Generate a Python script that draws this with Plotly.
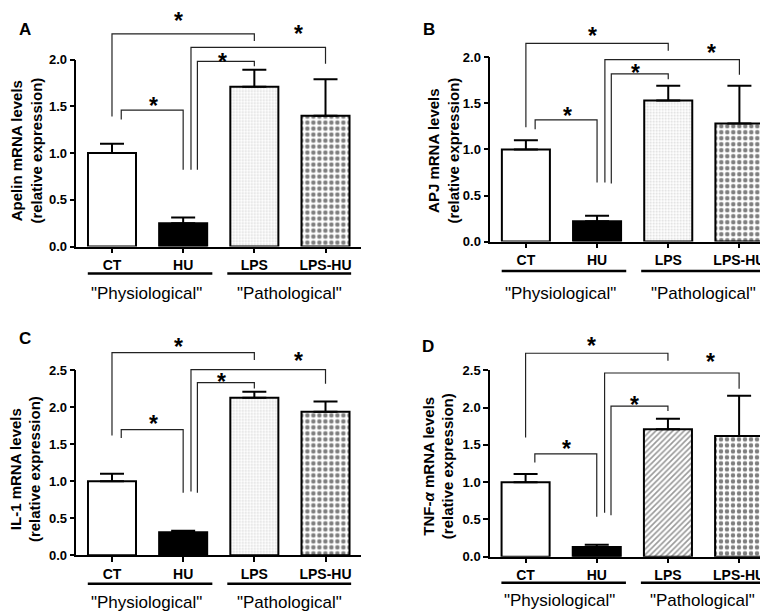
import plotly.graph_objects as go

W, H = 768, 614
FONT = "Liberation Sans, Arial, sans-serif"

categories = ["CT", "HU", "LPS", "LPS-HU"]
groups = ['"Physiological"', '"Pathological"']

# mean and SEM (relative expression)
apelin_mean = [1.00, 0.25, 1.71, 1.40]
apelin_sem = [0.10, 0.06, 0.18, 0.39]
apj_mean = [1.00, 0.22, 1.53, 1.28]
apj_sem = [0.10, 0.06, 0.16, 0.41]
il1_mean = [1.00, 0.31, 2.13, 1.94]
il1_sem = [0.10, 0.02, 0.08, 0.14]
tnf_mean = [1.00, 0.13, 1.71, 1.62]
tnf_sem = [0.11, 0.03, 0.14, 0.54]

# significance brackets: left x, right x, left foot, top, right foot, star x, star y
apelin_sig = [(0.13, 1.0, 1.36, 1.46, 0.82, 0.58, 1.555),
              (0.0, 2.0, 1.39, 2.275, 2.20, 0.94, 2.47),
              (1.2, 2.0, 0.82, 1.98, 1.93, 1.55, 2.03),
              (1.11, 3.0, 0.82, 2.13, 1.955, 2.62, 2.33)]
apj_sig = [(0.13, 1.0, 1.22, 1.32, 0.64, 0.59, 1.42),
           (0.0, 2.0, 1.24, 2.15, 2.07, 0.93, 2.29),
           (1.2, 2.0, 0.63, 1.82, 1.76, 1.54, 1.88),
           (1.11, 3.0, 0.64, 1.975, 1.81, 2.61, 2.10)]
il1_sig = [(0.13, 1.0, 1.585, 1.70, 0.845, 0.58, 1.84),
           (0.0, 2.0, 1.62, 2.74, 2.64, 0.94, 2.885),
           (1.2, 2.0, 0.845, 2.335, 2.255, 1.54, 2.41),
           (1.11, 3.0, 0.86, 2.51, 2.32, 2.62, 2.695)]
tnf_sig = [(0.13, 1.0, 1.265, 1.38, 0.535, 0.57, 1.51),
           (0.0, 2.0, 1.60, 2.73, 2.63, 0.92, 2.89),
           (1.2, 2.0, 0.555, 2.02, 1.955, 1.53, 2.10),
           (1.11, 3.0, 0.59, 2.465, 2.255, 2.60, 2.68)]

# bar fills: (fill colour, pattern shape, pattern colour, pattern size, solidity)
dots_light = ("white", ".", "#b0b0b0", 3, 0.3)
hatch = ("white", "/", "#333333", 4, 0.4)
checker = ("white", ".", "black", 6, 0.45)
plain_white = ("white", "", "black", 6, 0.3)
plain_black = ("black", "", "black", 6, 0.3)

panels = [
    dict(letter="A", title="Apelin mRNA levels", mean=apelin_mean, sem=apelin_sem, sig=apelin_sig,
         ymax=2.0, x0=68.4, x1=353.1, y0=237.3, y1=45.7, top=0, line_px=265, lab_px=285,
         letter_xy=(17, 15), title_xy=(19, 139),
         fills=[plain_white, plain_black, dots_light, checker]),
    dict(letter="B", title="APJ mRNA levels", mean=apj_mean, sem=apj_sem, sig=apj_sig,
         ymax=2.0, x0=482.3, x1=767.0, y0=232.3, y1=43.3, top=0, line_px=262.5, lab_px=285,
         letter_xy=(421, 15), title_xy=(436, 139),
         fills=[plain_white, plain_black, dots_light, checker]),
    dict(letter="C", title="IL-1 mRNA levels", mean=il1_mean, sem=il1_sem, sig=il1_sig,
         ymax=2.5, x0=68.4, x1=353.1, y0=553.7, y1=364.3, top=312, line_px=583, lab_px=602,
         letter_xy=(17, 332), title_xy=(17.5, 466),
         fills=[plain_white, plain_black, dots_light, checker]),
    dict(letter="D", title="TNF-<i>α</i> mRNA levels", mean=tnf_mean, sem=tnf_sem, sig=tnf_sig,
         ymax=2.5, x0=482.0, x1=766.7, y0=555.3, y1=364.3, top=312, line_px=582, lab_px=600.5,
         letter_xy=(420, 340), title_xy=(430.5, 463),
         fills=[plain_white, plain_black, hatch, checker]),
]


def fx(px):
    return px / W


def fy(px):
    return 1 - px / H


fig = go.Figure()
layout = {}
annotations = []
shapes = []
xpos = list(range(len(categories)))

for i, p in enumerate(panels):
    n = i + 1
    xa = "x" if n == 1 else "x%d" % n
    ya = "y" if n == 1 else "y%d" % n
    yb = "y%d" % (n + 4)

    for j, cat in enumerate(categories):
        color, shape, fg, size, solid = p["fills"][j]
        fig.add_trace(go.Bar(
            x=[xpos[j]], y=[p["mean"][j]], name=cat, width=0.675, xaxis=xa, yaxis=ya,
            showlegend=False,
            marker=dict(color=color, line=dict(color="black", width=2),
                        pattern=dict(shape=shape, fgcolor=fg, bgcolor=color, size=size,
                                     solidity=solid)),
            error_y=dict(type="data", symmetric=False, array=[p["sem"][j]], arrayminus=[0],
                         color="black", thickness=2, width=12),
        ))

    for (xl, xr, yl, yt, yr, sx, sy) in p["sig"]:
        fig.add_trace(go.Scatter(
            x=[xl, xl, xr, xr], y=[yl, yt, yt, yr], mode="lines", xaxis=xa, yaxis=yb,
            line=dict(color="#222222", width=1.2), hoverinfo="skip", showlegend=False))
        annotations.append(dict(x=sx, y=sy, xref=xa, yref=yb, text="*", showarrow=False,
                                yshift=-5, font=dict(family=FONT, size=23, color="black", weight="bold")))

    ytick_font = dict(family=FONT, size=13, color="black", weight="bold")
    xtick_font = dict(family=FONT, size=14, color="black", weight="bold")
    layout["xaxis" if n == 1 else "xaxis%d" % n] = dict(
        domain=[fx(p["x0"]), fx(p["x1"])], range=[-0.5, 3.5], anchor=ya,
        tickvals=xpos, ticktext=categories, tickfont=xtick_font,
        showline=True, linecolor="black", linewidth=1.5, ticks="outside", ticklen=5,
        tickwidth=1.5, tickcolor="black", showgrid=False, zeroline=False, fixedrange=True)
    layout["yaxis" if n == 1 else "yaxis%d" % n] = dict(
        domain=[fy(p["y0"]), fy(p["y1"])], range=[0, p["ymax"]], anchor=xa,
        dtick=0.5, tickformat=".1f", tickfont=ytick_font,
        showline=True, linecolor="black", linewidth=1.5, ticks="outside", ticklen=5,
        tickwidth=1.5, tickcolor="black", showgrid=False, zeroline=False, fixedrange=True)
    btop = (p["y0"] - p["top"]) / (p["y0"] - p["y1"]) * p["ymax"]
    layout["yaxis%d" % (n + 4)] = dict(
        domain=[fy(p["y0"]), fy(p["top"])], range=[0, btop], anchor=xa, visible=False,
        fixedrange=True)

    # group underlines and labels
    for (g0, g1), gx, gname in zip([(-0.34, 1.41), (1.62, 3.36)], [0.48, 2.49], groups):
        shapes.append(dict(type="line", xref=xa, yref="paper", x0=g0, x1=g1,
                           y0=fy(p["line_px"]), y1=fy(p["line_px"]),
                           line=dict(color="black", width=2.5)))
        annotations.append(dict(x=gx, y=fy(p["lab_px"]), xref=xa, yref="paper", text=gname,
                                showarrow=False, xanchor="center", yanchor="middle",
                                font=dict(family=FONT, size=17, color="black")))

    annotations.append(dict(x=fx(p["letter_xy"][0]), y=fy(p["letter_xy"][1]), xref="paper",
                            yref="paper", text=p["letter"], showarrow=False,
                            xanchor="center", yanchor="middle",
                            font=dict(family=FONT, size=17, color="black", weight="bold")))
    annotations.append(dict(x=fx(p["title_xy"][0]), y=fy(p["title_xy"][1]), xref="paper",
                            yref="paper", text=p["title"] + "<br>(relative expression)",
                            showarrow=False, textangle=-90, xanchor="center", yanchor="middle",
                            font=dict(family=FONT, size=15, color="black", weight="bold")))

fig.update_layout(
    width=W, height=H, margin=dict(l=0, r=0, t=0, b=0),
    paper_bgcolor="white", plot_bgcolor="rgba(0,0,0,0)", showlegend=False,
    barmode="overlay", annotations=annotations, shapes=shapes, **layout)

fig.write_html("out.html")
